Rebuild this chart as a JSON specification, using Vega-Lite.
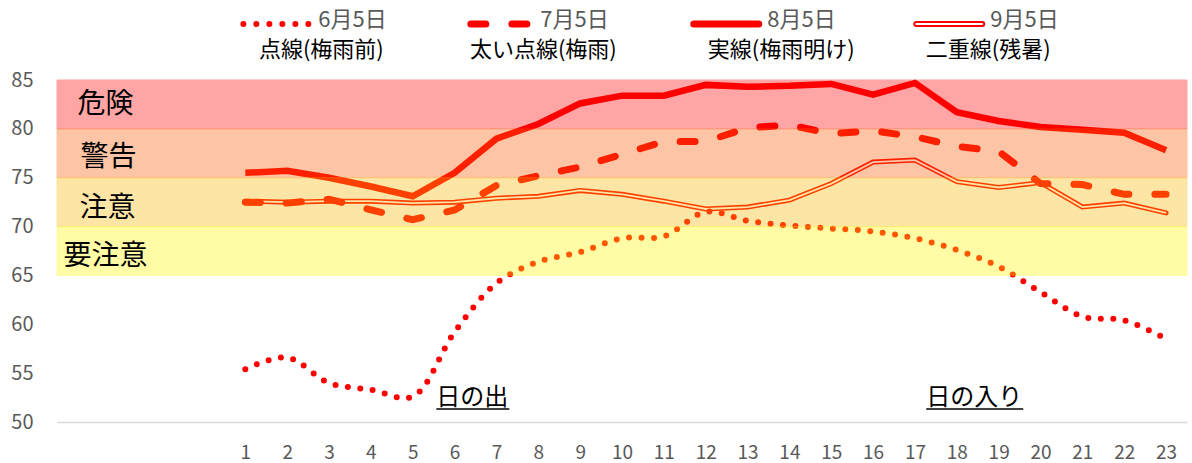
{
  "$schema": "https://vega.github.io/schema/vega-lite/v6.json",
  "width": 1130,
  "height": 342,
  "autosize": {"type": "none"},
  "padding": {"left": 57, "top": 80, "right": 5, "bottom": 41},
  "background": "white",
  "config": {"view": {"stroke": null}, "font": "Noto Sans CJK JP"},
  "datasets": {
    "series": [
      {"hour": 1, "date": "6月5日", "value": 55.4}, {"hour": 2, "date": "6月5日", "value": 56.6}, {"hour": 3, "date": "6月5日", "value": 54.0}, {"hour": 4, "date": "6月5日", "value": 53.3}, {"hour": 5, "date": "6月5日", "value": 52.6}, {"hour": 6, "date": "6月5日", "value": 59.2}, {"hour": 7, "date": "6月5日", "value": 64.2}, {"hour": 8, "date": "6月5日", "value": 66.4}, {"hour": 9, "date": "6月5日", "value": 67.4}, {"hour": 10, "date": "6月5日", "value": 68.8}, {"hour": 11, "date": "6月5日", "value": 69.0}, {"hour": 12, "date": "6月5日", "value": 71.5}, {"hour": 13, "date": "6月5日", "value": 70.6}, {"hour": 14, "date": "6月5日", "value": 70.1}, {"hour": 15, "date": "6月5日", "value": 69.8}, {"hour": 16, "date": "6月5日", "value": 69.5}, {"hour": 17, "date": "6月5日", "value": 68.8}, {"hour": 18, "date": "6月5日", "value": 67.6}, {"hour": 19, "date": "6月5日", "value": 65.9}, {"hour": 20, "date": "6月5日", "value": 63.3}, {"hour": 21, "date": "6月5日", "value": 60.8}, {"hour": 22, "date": "6月5日", "value": 60.4}, {"hour": 23, "date": "6月5日", "value": 58.5},
      {"hour": 1, "date": "7月5日", "value": 72.5}, {"hour": 2, "date": "7月5日", "value": 72.4}, {"hour": 3, "date": "7月5日", "value": 72.8}, {"hour": 4, "date": "7月5日", "value": 71.7}, {"hour": 5, "date": "7月5日", "value": 70.7}, {"hour": 6, "date": "7月5日", "value": 71.7}, {"hour": 7, "date": "7月5日", "value": 74.2}, {"hour": 8, "date": "7月5日", "value": 75.2}, {"hour": 9, "date": "7月5日", "value": 76.1}, {"hour": 10, "date": "7月5日", "value": 77.4}, {"hour": 11, "date": "7月5日", "value": 78.7}, {"hour": 12, "date": "7月5日", "value": 78.7}, {"hour": 13, "date": "7月5日", "value": 80.1}, {"hour": 14, "date": "7月5日", "value": 80.4}, {"hour": 15, "date": "7月5日", "value": 79.5}, {"hour": 16, "date": "7月5日", "value": 79.8}, {"hour": 17, "date": "7月5日", "value": 79.2}, {"hour": 18, "date": "7月5日", "value": 78.2}, {"hour": 19, "date": "7月5日", "value": 77.7}, {"hour": 20, "date": "7月5日", "value": 74.4}, {"hour": 21, "date": "7月5日", "value": 74.3}, {"hour": 22, "date": "7月5日", "value": 73.3}, {"hour": 23, "date": "7月5日", "value": 73.3},
      {"hour": 1, "date": "8月5日", "value": 75.5}, {"hour": 2, "date": "8月5日", "value": 75.7}, {"hour": 3, "date": "8月5日", "value": 75.0}, {"hour": 4, "date": "8月5日", "value": 74.1}, {"hour": 5, "date": "8月5日", "value": 73.1}, {"hour": 6, "date": "8月5日", "value": 75.5}, {"hour": 7, "date": "8月5日", "value": 79.0}, {"hour": 8, "date": "8月5日", "value": 80.5}, {"hour": 9, "date": "8月5日", "value": 82.6}, {"hour": 10, "date": "8月5日", "value": 83.4}, {"hour": 11, "date": "8月5日", "value": 83.4}, {"hour": 12, "date": "8月5日", "value": 84.5}, {"hour": 13, "date": "8月5日", "value": 84.3}, {"hour": 14, "date": "8月5日", "value": 84.4}, {"hour": 15, "date": "8月5日", "value": 84.6}, {"hour": 16, "date": "8月5日", "value": 83.5}, {"hour": 17, "date": "8月5日", "value": 84.7}, {"hour": 18, "date": "8月5日", "value": 81.7}, {"hour": 19, "date": "8月5日", "value": 80.8}, {"hour": 20, "date": "8月5日", "value": 80.2}, {"hour": 21, "date": "8月5日", "value": 79.9}, {"hour": 22, "date": "8月5日", "value": 79.6}, {"hour": 23, "date": "8月5日", "value": 77.8},
      {"hour": 1, "date": "9月5日", "value": 72.6}, {"hour": 2, "date": "9月5日", "value": 72.5}, {"hour": 3, "date": "9月5日", "value": 72.6}, {"hour": 4, "date": "9月5日", "value": 72.6}, {"hour": 5, "date": "9月5日", "value": 72.4}, {"hour": 6, "date": "9月5日", "value": 72.5}, {"hour": 7, "date": "9月5日", "value": 72.9}, {"hour": 8, "date": "9月5日", "value": 73.1}, {"hour": 9, "date": "9月5日", "value": 73.7}, {"hour": 10, "date": "9月5日", "value": 73.3}, {"hour": 11, "date": "9月5日", "value": 72.6}, {"hour": 12, "date": "9月5日", "value": 71.8}, {"hour": 13, "date": "9月5日", "value": 72.0}, {"hour": 14, "date": "9月5日", "value": 72.7}, {"hour": 15, "date": "9月5日", "value": 74.4}, {"hour": 16, "date": "9月5日", "value": 76.6}, {"hour": 17, "date": "9月5日", "value": 76.8}, {"hour": 18, "date": "9月5日", "value": 74.6}, {"hour": 19, "date": "9月5日", "value": 74.0}, {"hour": 20, "date": "9月5日", "value": 74.5}, {"hour": 21, "date": "9月5日", "value": 72.0}, {"hour": 22, "date": "9月5日", "value": 72.4}, {"hour": 23, "date": "9月5日", "value": 71.4}
    ],
    "bands": [
      {"band": "危険", "lo": 80, "hi": 85},
      {"band": "警告", "lo": 75, "hi": 80},
      {"band": "注意", "lo": 70, "hi": 75},
      {"band": "要注意", "lo": 65, "hi": 70}
    ],
    "bandLabels": [
      {"label": "危険", "hour": -3.012, "value": 82.44},
      {"label": "警告", "hour": -2.941, "value": 77.02},
      {"label": "注意", "hour": -2.965, "value": 71.75},
      {"label": "要注意", "hour": -3.347, "value": 66.84}
    ],
    "legendSymbols": [
      {"date": "6月5日", "x1": 0.953, "x2": 2.531, "value": 90.73},
      {"date": "7月5日", "x1": 6.388, "x2": 7.726, "value": 90.73},
      {"date": "8月5日", "x1": 11.715, "x2": 13.267, "value": 90.73},
      {"date": "9月5日", "x1": 17.031, "x2": 18.607, "value": 90.73}
    ],
    "legendDates": [
      {"label": "6月5日", "hour": 2.745, "value": 91.15},
      {"label": "7月5日", "hour": 8.048, "value": 91.15},
      {"label": "8月5日", "hour": 13.471, "value": 91.15},
      {"label": "9月5日", "hour": 18.798, "value": 91.15}
    ],
    "legendNotes": [
      {"label": "点線(梅雨前)", "hour": 2.816, "value": 88.1},
      {"label": "太い点線(梅雨)", "hour": 8.12, "value": 88.1},
      {"label": "実線(梅雨明け)", "hour": 13.806, "value": 88.1},
      {"label": "二重線(残暑)", "hour": 18.751, "value": 88.1}
    ],
    "sunNotes": [
      {"label": "日の出", "x1": 5.564, "x2": 7.308, "value": 52.46, "under": 51.33},
      {"label": "日の入り", "x1": 17.269, "x2": 19.587, "value": 52.46, "under": 51.33}
    ]
  },
  "layer": [
    {
      "data": {"name": "series"},
      "transform": [{"filter": "datum.date === '9月5日'"}],
      "mark": {"type": "line", "color": "#FF0000", "strokeWidth": 5, "strokeJoin": "miter", "strokeCap": "round"},
      "encoding": {
        "x": {"field": "hour", "type": "quantitative", "scale": {"domain": [-3.5, 23.5], "nice": false, "zero": false},
          "axis": {"values": [1,2,3,4,5,6,7,8,9,10,11,12,13,14,15,16,17,18,19,20,21,22,23], "title": null, "grid": false, "ticks": false, "domainColor": "#D9D9D9", "domainWidth": 1.5, "labelColor": "#595959", "labelFontSize": 19, "labelPadding": 21, "labelFont": "Noto Sans CJK JP"}},
        "y": {"field": "value", "type": "quantitative", "scale": {"domain": [50, 85], "nice": false, "zero": false},
          "axis": {"values": [50, 55, 60, 65, 70, 75, 80, 85], "title": null, "grid": false, "ticks": false, "domain": false, "labelColor": "#595959", "labelFontSize": 20, "labelPadding": 24, "labelFont": "Noto Sans CJK JP"}}
      }
    },
    {
      "data": {"name": "series"},
      "transform": [{"filter": "datum.date === '9月5日'"}],
      "mark": {"type": "line", "color": "#FFFFFF", "strokeWidth": 1.8, "strokeJoin": "miter"},
      "encoding": {
        "x": {"field": "hour", "type": "quantitative", "axis": {"title": null}},
        "y": {"field": "value", "type": "quantitative", "axis": {"title": null}}
      }
    },
    {
      "data": {"name": "series"},
      "transform": [{"filter": "datum.date === '6月5日'"}],
      "mark": {"type": "line", "color": "#FF0000", "strokeWidth": 6, "strokeCap": "round", "strokeDash": [0, 12.5], "interpolate": "catmull-rom"},
      "encoding": {
        "x": {"field": "hour", "type": "quantitative", "axis": {"title": null}},
        "y": {"field": "value", "type": "quantitative", "axis": {"title": null}}
      }
    },
    {
      "data": {"name": "series"},
      "transform": [{"filter": "datum.date === '7月5日'"}],
      "mark": {"type": "line", "color": "#FF0000", "strokeWidth": 7, "strokeCap": "round", "strokeDash": [15, 26]},
      "encoding": {
        "x": {"field": "hour", "type": "quantitative", "axis": {"title": null}},
        "y": {"field": "value", "type": "quantitative", "axis": {"title": null}}
      }
    },
    {
      "data": {"name": "series"},
      "transform": [{"filter": "datum.date === '8月5日'"}],
      "mark": {"type": "line", "color": "#FF0000", "strokeWidth": 6.5, "strokeJoin": "miter"},
      "encoding": {
        "x": {"field": "hour", "type": "quantitative", "axis": {"title": null}},
        "y": {"field": "value", "type": "quantitative", "axis": {"title": null}}
      }
    },
    {
      "data": {"name": "bands"},
      "mark": {"type": "rect", "opacity": 0.35, "strokeWidth": 1},
      "encoding": {
        "y": {"field": "lo", "type": "quantitative", "axis": {"title": null}},
        "y2": {"field": "hi"},
        "fill": {"field": "band", "type": "nominal", "legend": null, "scale": {"domain": ["危険", "警告", "注意", "要注意"], "range": ["#FF0000", "#FC5C00", "#FCB700", "#FFF900"]}},
        "stroke": {"field": "band", "type": "nominal", "legend": null, "scale": {"domain": ["危険", "警告", "注意", "要注意"], "range": ["#FF0000", "#FC5C00", "#FCB700", "#FFF900"]}}
      }
    },
    {
      "data": {"name": "bandLabels"},
      "mark": {"type": "text", "align": "left", "baseline": "middle", "fontSize": 28, "color": "#000000", "font": "Noto Sans CJK JP"},
      "encoding": {
        "x": {"field": "hour", "type": "quantitative", "axis": {"title": null}},
        "y": {"field": "value", "type": "quantitative", "axis": {"title": null}},
        "text": {"field": "label"}
      }
    },
    {
      "data": {"name": "legendSymbols"},
      "transform": [{"filter": "datum.date === '6月5日'"}],
      "mark": {"type": "rule", "color": "#FF0000", "strokeWidth": 6, "strokeCap": "round", "strokeDash": [0, 13]},
      "encoding": {
        "x": {"field": "x1", "type": "quantitative", "axis": {"title": null}},
        "x2": {"field": "x2"},
        "y": {"field": "value", "type": "quantitative", "axis": {"title": null}}
      }
    },
    {
      "data": {"name": "legendSymbols"},
      "transform": [{"filter": "datum.date === '7月5日'"}],
      "mark": {"type": "rule", "color": "#FF0000", "strokeWidth": 7, "strokeCap": "round", "strokeDash": [15, 26]},
      "encoding": {
        "x": {"field": "x1", "type": "quantitative", "axis": {"title": null}},
        "x2": {"field": "x2"},
        "y": {"field": "value", "type": "quantitative", "axis": {"title": null}}
      }
    },
    {
      "data": {"name": "legendSymbols"},
      "transform": [{"filter": "datum.date === '8月5日'"}],
      "mark": {"type": "rule", "color": "#FF0000", "strokeWidth": 7, "strokeCap": "round"},
      "encoding": {
        "x": {"field": "x1", "type": "quantitative", "axis": {"title": null}},
        "x2": {"field": "x2"},
        "y": {"field": "value", "type": "quantitative", "axis": {"title": null}}
      }
    },
    {
      "data": {"name": "legendSymbols"},
      "transform": [{"filter": "datum.date === '9月5日'"}],
      "mark": {"type": "rule", "color": "#FF0000", "strokeWidth": 6, "strokeCap": "round"},
      "encoding": {
        "x": {"field": "x1", "type": "quantitative", "axis": {"title": null}},
        "x2": {"field": "x2"},
        "y": {"field": "value", "type": "quantitative", "axis": {"title": null}}
      }
    },
    {
      "data": {"name": "legendSymbols"},
      "transform": [{"filter": "datum.date === '9月5日'"}],
      "mark": {"type": "rule", "color": "#FFFFFF", "strokeWidth": 2, "strokeCap": "round"},
      "encoding": {
        "x": {"field": "x1", "type": "quantitative", "axis": {"title": null}},
        "x2": {"field": "x2"},
        "y": {"field": "value", "type": "quantitative", "axis": {"title": null}}
      }
    },
    {
      "data": {"name": "legendDates"},
      "mark": {"type": "text", "align": "left", "baseline": "middle", "fontSize": 22, "color": "#595959", "font": "Noto Sans CJK JP"},
      "encoding": {
        "x": {"field": "hour", "type": "quantitative", "axis": {"title": null}},
        "y": {"field": "value", "type": "quantitative", "axis": {"title": null}},
        "text": {"field": "label"}
      }
    },
    {
      "data": {"name": "legendNotes"},
      "mark": {"type": "text", "align": "center", "baseline": "middle", "fontSize": 22, "color": "#000000", "font": "Noto Sans CJK JP"},
      "encoding": {
        "x": {"field": "hour", "type": "quantitative", "axis": {"title": null}},
        "y": {"field": "value", "type": "quantitative", "axis": {"title": null}},
        "text": {"field": "label"}
      }
    },
    {
      "data": {"name": "sunNotes"},
      "mark": {"type": "text", "align": "left", "baseline": "middle", "fontSize": 24, "color": "#000000", "font": "Noto Sans CJK JP"},
      "encoding": {
        "x": {"field": "x1", "type": "quantitative", "axis": {"title": null}},
        "y": {"field": "value", "type": "quantitative", "axis": {"title": null}},
        "text": {"field": "label"}
      }
    },
    {
      "data": {"name": "sunNotes"},
      "mark": {"type": "rule", "color": "#000000", "strokeWidth": 1.5},
      "encoding": {
        "x": {"field": "x1", "type": "quantitative", "axis": {"title": null}},
        "x2": {"field": "x2"},
        "y": {"field": "under", "type": "quantitative", "axis": {"title": null}}
      }
    }
  ]
}
